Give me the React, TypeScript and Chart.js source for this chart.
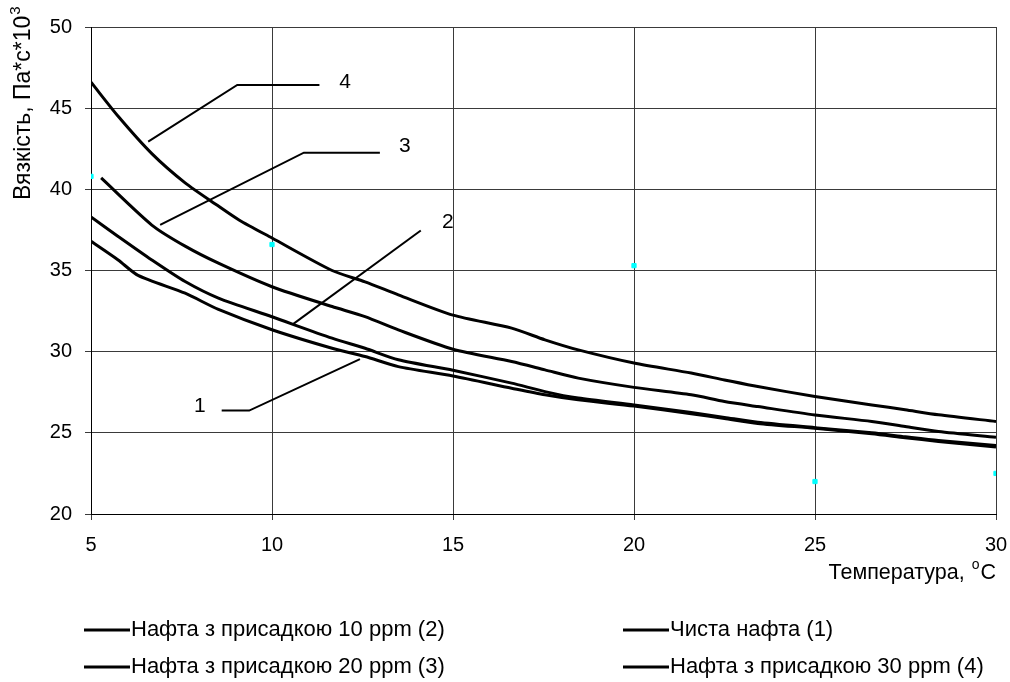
import React, { useEffect, useRef } from "react";
import { Chart, registerables } from "chart.js";

Chart.register(...registerables);

const FONT = "'Liberation Sans', Arial, sans-serif";

// ---- Data ----
const seriesNames = [
  "Чиста нафта (1)",
  "Нафта з присадкою 10 ppm (2)",
  "Нафта з присадкою 20 ppm (3)",
  "Нафта з присадкою 30 ppm (4)",
];

const curve1X = [5, 5.75, 6.3, 7.6, 8.52, 10, 11.66, 12.57, 13.49, 15, 16.62, 17.54, 18.46, 20, 21.58, 22.5, 23.42, 25, 26.57, 27.49, 28.41, 30];
const curve1Y = [36.8, 35.65, 34.7, 33.6, 32.6, 31.35, 30.21, 29.7, 29.08, 28.5, 27.75, 27.34, 27.03, 26.65, 26.18, 25.88, 25.58, 25.28, 24.95, 24.7, 24.47, 24.12];

const curve2X = [5, 5.75, 6.68, 7.6, 8.52, 10, 11.66, 12.57, 13.49, 15, 16.62, 17.54, 18.46, 20, 21.58, 22.5, 23.42, 25, 26.57, 27.49, 28.41, 30];
const curve2Y = [38.3, 37.1, 35.65, 34.32, 33.3, 32.15, 30.83, 30.21, 29.5, 28.85, 28.06, 27.54, 27.14, 26.72, 26.25, 25.95, 25.65, 25.32, 25.0, 24.76, 24.53, 24.22];

const curve3X = [5.28, 6.68, 7.6, 8.52, 10, 11.66, 12.57, 13.49, 15, 16.62, 17.54, 18.46, 20, 21.58, 22.5, 23.42, 25, 26.57, 27.49, 28.41, 30];
const curve3Y = [40.7, 37.8, 36.5, 35.45, 34.0, 32.78, 32.16, 31.34, 30.15, 29.39, 28.88, 28.37, 27.8, 27.34, 26.93, 26.62, 26.1, 25.7, 25.39, 25.08, 24.73];

const curve4X = [5, 5.75, 6.68, 7.6, 8.5, 9.1, 10, 11.66, 12.57, 13.49, 15, 16.62, 17.54, 18.46, 20, 21.58, 22.5, 23.42, 25, 26.57, 27.49, 28.41, 30];
const curve4Y = [46.6, 44.5, 42.2, 40.4, 39.0, 38.1, 37.0, 35.0, 34.3, 33.5, 32.25, 31.45, 30.73, 30.11, 29.3, 28.68, 28.26, 27.85, 27.24, 26.72, 26.42, 26.11, 25.7];

const markerX = [5, 10, 20, 25, 30];
const markerY = [40.8, 36.6, 35.3, 22.0, 22.5];

// leader lines for curve numbers
const leader4X = [11.31, 9.04, 6.58];
const leader4Y = [46.43, 46.43, 42.94];
const leader3X = [12.98, 10.88, 6.91];
const leader3Y = [42.26, 42.26, 37.81];
const leader2X = [14.11, 10.59];
const leader2Y = [37.46, 31.71];
const leader1X = [8.61, 9.37, 12.43];
const leader1Y = [26.37, 26.37, 29.54];

const labelTexts = ["4", "3", "2", "1"];
const labelX = [12.02, 13.67, 14.86, 8.01];
const labelY = [46.6, 42.67, 38.0, 26.66];

const xTicks = [5, 10, 15, 20, 25, 30];
const yTicks = [20, 25, 30, 35, 40, 45, 50];

const yTitle = "Вязкість, Па*с*10";
const yTitleSup = "3";
const xTitle = "Температура, ";
const xTitleSup = "o";
const xTitleEnd = "C";

// legend slots in reading order: (col1,row1), (col2,row1), (col1,row2), (col2,row2)
const legendOrder = [1, 0, 2, 3];

const zip = (xs: number[], ys: number[]) => xs.map((x, i) => ({ x, y: ys[i] }));

export default function App() {
  const canvasRef = useRef<HTMLCanvasElement | null>(null);

  useEffect(() => {
    const canvas = canvasRef.current;
    if (!canvas) return;

    const curveStyle = {
      borderColor: "#000",
      borderWidth: 3,
      pointRadius: 0,
      fill: false,
      tension: 0.25,
      showLine: true,
    };
    const leaderStyle = {
      borderColor: "#000",
      borderWidth: 2,
      pointRadius: 0,
      fill: false,
      tension: 0,
      showLine: true,
    };

    const textPlugin = {
      id: "extraText",
      afterDraw(chart: any) {
        const ctx = chart.ctx;
        const xs = chart.scales.x;
        const ys = chart.scales.y;
        ctx.save();
        ctx.fillStyle = "#000";
        // curve number labels
        ctx.font = `21px ${FONT}`;
        ctx.textAlign = "center";
        ctx.textBaseline = "middle";
        labelTexts.forEach((t, i) => {
          ctx.fillText(t, xs.getPixelForValue(labelX[i]), ys.getPixelForValue(labelY[i]));
        });

        // y title (rotated)
        ctx.save();
        ctx.translate(24, 200);
        ctx.rotate(-Math.PI / 2);
        ctx.textAlign = "left";
        ctx.textBaseline = "middle";
        ctx.font = `23px ${FONT}`;
        ctx.fillText(yTitle, 0, 0);
        const w = ctx.measureText(yTitle).width;
        ctx.font = `15px ${FONT}`;
        ctx.fillText(yTitleSup, w + 1, -8);
        ctx.restore();

        // x title (right aligned)
        ctx.textBaseline = "middle";
        ctx.textAlign = "right";
        const right = chart.chartArea.right;
        const yy = chart.chartArea.bottom + 59;
        ctx.font = `21.5px ${FONT}`;
        ctx.fillText(xTitleEnd, right, yy);
        const wC = ctx.measureText(xTitleEnd).width;
        ctx.font = `14px ${FONT}`;
        ctx.fillText(xTitleSup, right - wC - 1, yy - 8);
        const wo = ctx.measureText(xTitleSup).width;
        ctx.font = `21.5px ${FONT}`;
        ctx.fillText(xTitle, right - wC - wo - 2, yy);

        // legend
        const colX = [84, 623];
        const rowY = [chart.chartArea.bottom + 116, chart.chartArea.bottom + 153];
        ctx.textAlign = "left";
        ctx.font = `22px ${FONT}`;
        legendOrder.forEach((si, slot) => {
          const cx = colX[slot % 2];
          const cy = rowY[Math.floor(slot / 2)];
          ctx.strokeStyle = "#000";
          ctx.lineWidth = 3;
          ctx.beginPath();
          ctx.moveTo(cx, cy);
          ctx.lineTo(cx + 46, cy);
          ctx.stroke();
          ctx.fillText(chart.data.datasets[si].label, cx + 47, cy);
        });
        ctx.restore();
      },
    };

    const chart = new Chart(canvas, {
      type: "scatter",
      data: {
        datasets: [
          { label: seriesNames[0], data: zip(curve1X, curve1Y), ...curveStyle },
          { label: seriesNames[1], data: zip(curve2X, curve2Y), ...curveStyle },
          { label: seriesNames[2], data: zip(curve3X, curve3Y), ...curveStyle },
          { label: seriesNames[3], data: zip(curve4X, curve4Y), ...curveStyle },
          { label: "l4", data: zip(leader4X, leader4Y), ...leaderStyle },
          { label: "l3", data: zip(leader3X, leader3Y), ...leaderStyle },
          { label: "l2", data: zip(leader2X, leader2Y), ...leaderStyle },
          { label: "l1", data: zip(leader1X, leader1Y), ...leaderStyle },
          {
            label: "points",
            data: zip(markerX, markerY),
            showLine: false,
            pointStyle: "rect",
            pointRadius: 3,
            backgroundColor: "#00FFFF",
            borderColor: "#00FFFF",
            borderWidth: 1,
          },
        ],
      } as any,
      options: {
        animation: false,
        responsive: true,
        maintainAspectRatio: false,
        layout: { padding: { top: 27, right: 14, left: 0, bottom: 0 } },
        plugins: {
          legend: { display: false },
          tooltip: { enabled: false },
        },
        scales: {
          x: {
            type: "linear",
            min: 5,
            max: 30,
            afterFit: (s: any) => {
              s.height = 168;
              s.paddingLeft = 0;
              s.paddingRight = 0;
            },
            afterBuildTicks: (s: any) => { s.ticks = xTicks.map((v) => ({ value: v })); },
            ticks: { font: { size: 20, family: FONT }, color: "#000", padding: 13, maxRotation: 0 },
            grid: { color: "#3a3a3a", lineWidth: 1, tickLength: 6, tickColor: "#3a3a3a" },
            border: { color: "#000", width: 1 },
          },
          y: {
            type: "linear",
            min: 20,
            max: 50,
            afterFit: (s: any) => {
              s.width = 91;
              s.paddingTop = 0;
              s.paddingBottom = 0;
            },
            afterBuildTicks: (s: any) => { s.ticks = yTicks.map((v) => ({ value: v })); },
            ticks: { font: { size: 20, family: FONT }, color: "#000", padding: 13 },
            grid: { color: "#3a3a3a", lineWidth: 1, tickLength: 6, tickColor: "#3a3a3a" },
            border: { color: "#000", width: 1 },
          },
        },
      } as any,
      plugins: [textPlugin],
    });

    return () => chart.destroy();
  }, []);

  return (
    <div style={{ position: "absolute", left: 0, top: 0, width: 1010, height: 682, background: "#fff" }}>
      <canvas ref={canvasRef} />
    </div>
  );
}
